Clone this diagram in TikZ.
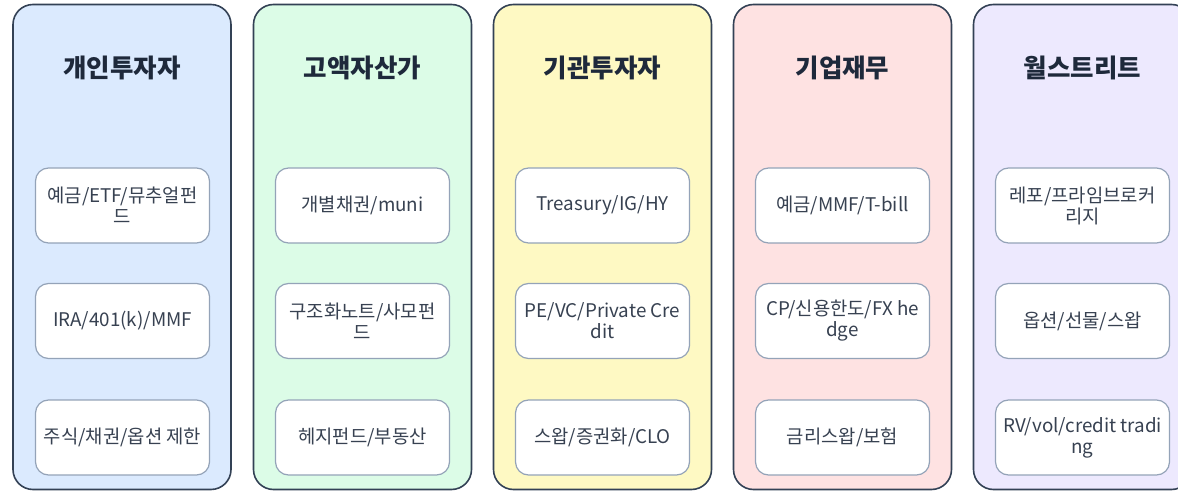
\documentclass[tikz,border=0pt]{standalone}
\usepackage{fontspec}
\setmainfont{Noto Sans CJK KR}
\definecolor{cblue}{HTML}{DBEAFE}
\definecolor{cgreen}{HTML}{DCFCE7}
\definecolor{cyellow}{HTML}{FEF9C3}
\definecolor{cred}{HTML}{FEE2E2}
\definecolor{cviolet}{HTML}{EDE9FE}
\definecolor{colborder}{HTML}{334155}
\definecolor{itemborder}{HTML}{94A3B8}
\definecolor{txt}{HTML}{1E293B}
\definecolor{itemtxt}{HTML}{374151}
\begin{document}
\begin{tikzpicture}[x=1pt,y=-1pt,
  column/.style={draw=colborder, line width=1.6pt, rounded corners=20pt, minimum width=218pt, minimum height=485pt, inner sep=0pt},
  title/.style={font=\bfseries\fontsize{25.5}{30}\selectfont, text=txt},
  item/.style={draw=itemborder, line width=1.2pt, fill=white, rounded corners=13pt, minimum width=174pt, minimum height=75pt, align=center, inner sep=0pt, font=\fontsize{18.8}{21}\selectfont, text=itemtxt}]
\useasboundingbox (0,0) rectangle (1178,494);
\begin{scope}
\clip (0,0) rectangle (1178,494);
\node[column, fill=cblue] (c1) at (122,247) {};
\node[column, fill=cgreen] (c2) at (362.5,247) {};
\node[column, fill=cyellow] (c3) at (602.5,247) {};
\node[column, fill=cred] (c4) at (842.5,247) {};
\node[column, fill=cviolet] (c5) at (1082.5,247) {};
\end{scope}
\node[title] (t1) at (122,68) {개인투자자};
\node[title] (t2) at (362.5,68) {고액자산가};
\node[title] (t3) at (602.5,68) {기관투자자};
\node[title] (t4) at (842.5,68) {기업재무};
\node[title] (t5) at (1082.5,68) {월스트리트};
\node[item] (a1) at (122.5,205.5) {예금/ETF/뮤추얼펀\\드};
\node[item] (a2) at (122.5,321) {IRA/401(k)/MMF};
\node[item] (a3) at (122.5,437.5) {주식/채권/옵션 제한};
\node[item] (b1) at (362.5,205.5) {개별채권/muni};
\node[item] (b2) at (362.5,321) {구조화노트/사모펀\\드};
\node[item] (b3) at (362.5,437.5) {헤지펀드/부동산};
\node[item] (d1) at (602.5,205.5) {Treasury/IG/HY};
\node[item] (d2) at (602.5,321) {PE/VC/Private Cre\\dit};
\node[item] (d3) at (602.5,437.5) {스왑/증권화/CLO};
\node[item] (e1) at (842.5,205.5) {예금/MMF/T-bill};
\node[item] (e2) at (842.5,321) {CP/신용한도/FX he\\dge};
\node[item] (e3) at (842.5,437.5) {금리스왑/보험};
\node[item] (f1) at (1082.5,205.5) {레포/프라임브로커\\리지};
\node[item] (f2) at (1082.5,321) {옵션/선물/스왑};
\node[item] (f3) at (1082.5,437.5) {RV/vol/credit tradi\\ng};
\end{tikzpicture}
\end{document}
